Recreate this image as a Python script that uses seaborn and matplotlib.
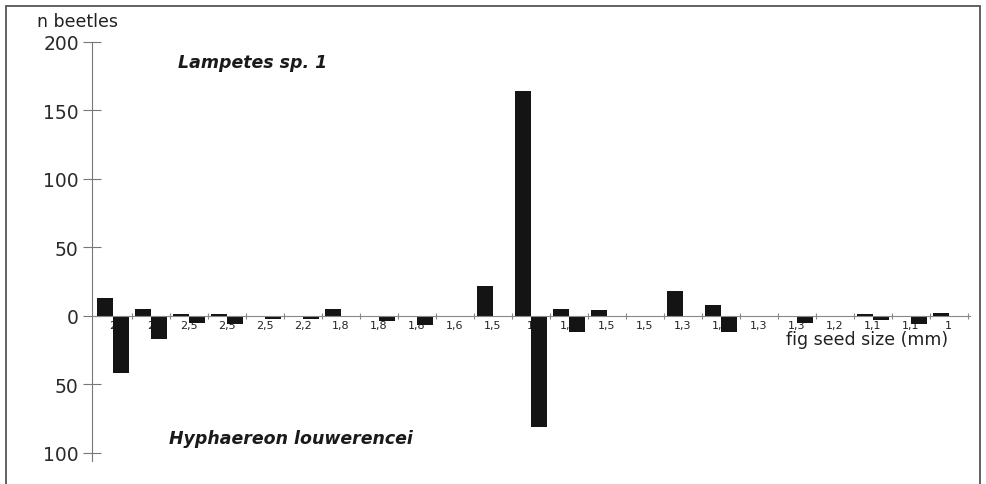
import pandas as pd
import seaborn as sns
import matplotlib.pyplot as plt
from matplotlib.patches import Rectangle
from matplotlib.ticker import FuncFormatter

# fig seed size per sample (mm), in order along the x axis
seed_size = ["2", "2", "2,5", "2,5", "2,5", "2,2", "1,8", "1,8", "1,8", "1,6", "1,5", "1",
             "1,6", "1,5", "1,5", "1,3", "1,3", "1,3", "1,3", "1,2", "1,1", "1,1", "1"]
lampetes = [13, 5, 1, 1, 0, 0, 5, 0, 0, 0, 22, 164, 5, 4.5, 0, 18, 8, 0, 0, 0, 1, 0, 2]
hyphaereon = [42, 17, 5, 6, 2, 2, 1, 4, 7, 0, 1, 81, 12, 0, 0, 0, 12, 0, 5, 0, 3, 6, 1]

n = len(seed_size)
df = pd.DataFrame({
    "sample": list(range(n)) * 2,
    "n": lampetes + [-v for v in hyphaereon],
    "species": ["Lampetes sp. 1"] * n + ["Hyphaereon louwerencei"] * n,
})

sns.set_style("white")
plt.rcParams["font.family"] = ["DejaVu Sans"]

fig = plt.figure(figsize=(9.86, 4.85), dpi=100)
ax = fig.add_axes([0.0933, 0.0474, 0.890, 0.864])

sns.barplot(data=df, x="sample", y="n", hue="species",
            hue_order=["Lampetes sp. 1", "Hyphaereon louwerencei"],
            palette=["#141414", "#141414"], saturation=1, width=0.84,
            dodge=True, legend=False, linewidth=0, ax=ax)

ax.set_axisbelow(True)  # bars cover the seed size labels, as in the original
ax.set_xlim(-0.55, n - 0.45)
ax.set_ylim(-106, 200)

# y axis
ax.set_yticks([-100, -50, 0, 50, 100, 150, 200])
ax.yaxis.set_major_formatter(FuncFormatter(lambda v, p: f"{abs(int(v))}"))
ax.tick_params(axis="y", left=True, direction="inout", length=13, width=0.8, color="#777",
               labelsize=13.5, labelcolor="#2a2a2a", pad=3)

# x axis along zero line
ax.spines["bottom"].set_position(("data", 0))
ax.spines["bottom"].set_color("#888")
ax.spines["bottom"].set_linewidth(0.8)
ax.spines["left"].set_color("#777")
ax.spines["left"].set_linewidth(0.8)
ax.spines["top"].set_visible(False)
ax.spines["right"].set_visible(False)
ax.set_xticks(range(n))
ax.set_xticklabels(seed_size)
ax.set_xticks([i + 0.5 for i in range(n)], minor=True)
ax.tick_params(axis="x", which="major", bottom=True, length=0, labelsize=8,
               labelcolor="#222", pad=3)
ax.tick_params(axis="x", which="minor", bottom=True, direction="inout", length=4,
               width=0.8, color="#888")
ax.set_xlabel("")
ax.set_ylabel("")

fig.text(0.079, 0.955, "n beetles", fontsize=12.5, color="#222", ha="center", va="center")
fig.text(0.962, 0.298, "fig seed size (mm)", fontsize=12.5, color="#222", ha="right", va="center")
fig.text(0.181, 0.870, "Lampetes sp. 1", fontsize=12.5, fontweight="bold",
         fontstyle="italic", color="#1a1a1a", va="center")
fig.text(0.171, 0.095, "Hyphaereon louwerencei", fontsize=12.5, fontweight="bold",
         fontstyle="italic", color="#1a1a1a", va="center")

# outer frame of the figure panel
fig.patches.append(Rectangle((6 / 986, -0.05), 974 / 986, 1.035, transform=fig.transFigure,
                             fill=False, edgecolor="#555", linewidth=1.3))

plt.savefig("out.png", dpi=100)
